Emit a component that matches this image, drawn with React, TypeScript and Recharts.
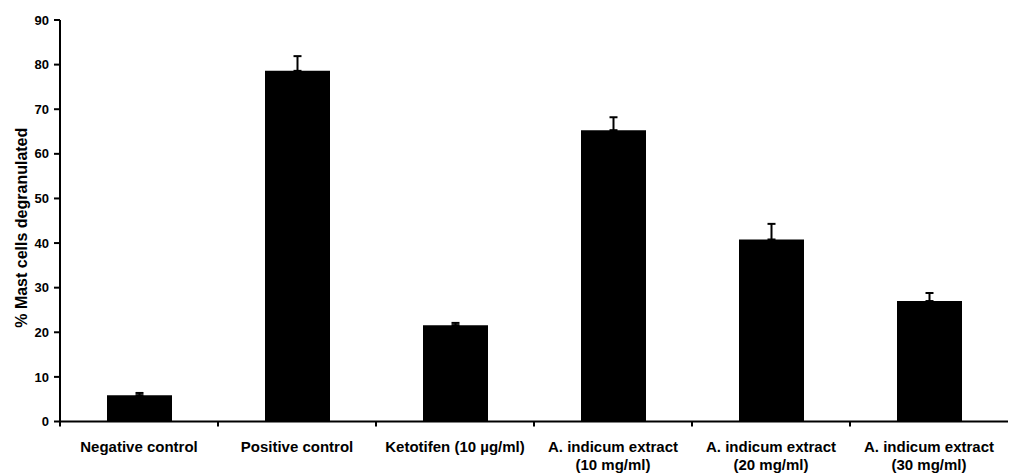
import React from 'react';
import { BarChart, Bar, XAxis, YAxis, ErrorBar, Label } from 'recharts';

// categories, split into the lines they are printed on
const categoryLines: string[][] = [
  ['Negative control'],
  ['Positive control'],
  ['Ketotifen (10 µg/ml)'],
  ['A. indicum extract', '(10 mg/ml)'],
  ['A. indicum extract', '(20 mg/ml)'],
  ['A. indicum extract', '(30 mg/ml)']
];
const degranulated = [5.9, 78.6, 21.6, 65.3, 40.8, 27.0];
const errorUp = [0.5, 3.3, 0.5, 2.9, 3.5, 1.8];
const yTicks = [0, 10, 20, 30, 40, 50, 60, 70, 80, 90];
const yTitle = '% Mast cells degranulated';

const data = categoryLines.map((lines, i) => ({
  name: lines.join(' '),
  lines,
  value: degranulated[i],
  err: [0, errorUp[i]]
}));

const WIDTH = 1010;
const HEIGHT = 476;
const Y_AXIS_W = 60;
const MARGIN = { top: 20, right: 2, bottom: 0, left: 0 };
const BAND = (WIDTH - Y_AXIS_W - MARGIN.left - MARGIN.right) / categoryLines.length;
const FONT = '"Liberation Sans", Arial, Helvetica, sans-serif';

const CategoryTick = (props: any) => {
  const { x, y, index } = props;
  const lines: string[] = data[index]?.lines ?? [props.payload.value];
  const axisY = y - 5;
  const edge = x - BAND / 2;
  return (
    <g>
      <line x1={edge} y1={axisY} x2={edge} y2={axisY + 5} stroke="#000" strokeWidth={2} />
      {lines.map((line, i) => (
        <text
          key={i}
          x={x}
          y={axisY + 30 + i * 18}
          textAnchor="middle"
          fontFamily={FONT}
          fontWeight="bold"
          fontSize={15}
          fill="#000"
        >
          {line}
        </text>
      ))}
    </g>
  );
};

const YTitle = (props: any) => {
  const { viewBox } = props;
  const cx = viewBox.x + 21;
  const cy = viewBox.y + viewBox.height / 2 + 7;
  return (
    <text
      x={cx}
      y={cy}
      transform={`rotate(-90, ${cx}, ${cy})`}
      textAnchor="middle"
      dominantBaseline="central"
      fontFamily={FONT}
      fontWeight="bold"
      fontSize={16}
      fill="#000"
    >
      {yTitle}
    </text>
  );
};

export default function App() {
  return (
    <div style={{ position: 'absolute', left: 0, top: 0, width: WIDTH, height: HEIGHT, background: '#fff' }}>
      <BarChart width={WIDTH} height={HEIGHT} data={data} margin={MARGIN}>
        <XAxis
          dataKey="name"
          height={54.5}
          interval={0}
          axisLine={{ stroke: '#000', strokeWidth: 2 }}
          tickLine={false}
          tickSize={5}
          tickMargin={0}
          tick={<CategoryTick />}
        />
        <YAxis
          width={Y_AXIS_W}
          domain={[0, 90]}
          ticks={yTicks}
          interval={0}
          axisLine={{ stroke: '#000', strokeWidth: 2 }}
          tickLine={{ stroke: '#000', strokeWidth: 2 }}
          tickSize={6}
          tickMargin={5}
          tick={{ fill: '#000', fontSize: 13, fontWeight: 'bold', fontFamily: FONT }}
        >
          <Label content={<YTitle />} />
        </YAxis>
        <Bar dataKey="value" fill="#000" barSize={65} isAnimationActive={false}>
          <ErrorBar dataKey="err" direction="y" width={4} stroke="#000" strokeWidth={2} />
        </Bar>
      </BarChart>
    </div>
  );
}
